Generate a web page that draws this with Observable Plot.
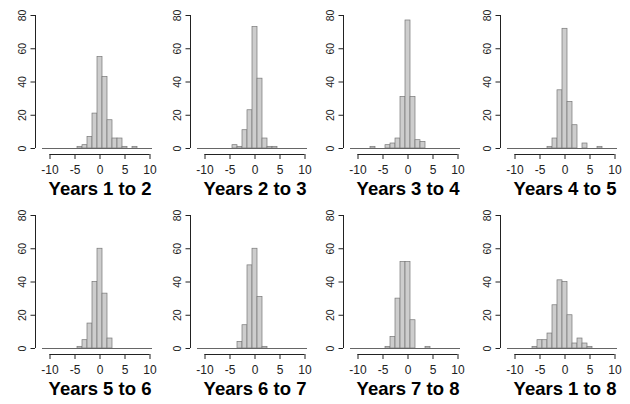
<!DOCTYPE html>
<html><head><meta charset="utf-8">
<script src="https://cdn.jsdelivr.net/npm/d3@7"></script>
<script src="https://cdn.jsdelivr.net/npm/@observablehq/plot@0.6"></script>
<style>
html,body{margin:0;padding:0;background:#fff;}
#chart{position:relative;width:630px;height:404px;overflow:hidden;font-family:"Liberation Sans",Arial,sans-serif;}
.panel{position:absolute;}
</style></head><body><div id="chart"></div>
<script>
const titles = ["Years 1 to 2","Years 2 to 3","Years 3 to 4","Years 4 to 5",
                "Years 5 to 6","Years 6 to 7","Years 7 to 8","Years 1 to 8"];
const binStarts = [-11.5,-10.5,-9.5,-8.5,-7.5,-6.5,-5.5,-4.5,-3.5,-2.5,-1.5,-0.5,0.5,1.5,2.5,3.5,4.5,5.5,6.5,7.5,8.5,9.5];
const binEnds   = [-10.5,-9.5,-8.5,-7.5,-6.5,-5.5,-4.5,-3.5,-2.5,-1.5,-0.5,0.5,1.5,2.5,3.5,4.5,5.5,6.5,7.5,8.5,9.5,10.5];
const years12 = [0,0,0,0,0,0,0,1,2,7,21,55,43,17,6,6,1,0,1,0,0,0];
const years23 = [0,0,0,0,0,0,0,2,1,11,23,73,42,6,1,1,0,0,0,0,0,0];
const years34 = [0,0,0,0,1,0,0,2,3,6,31,77,31,5,4,0,0,0,0,0,0,0];
const years45 = [0,0,0,0,0,0,0,0,1,6,35,72,28,14,0,3,0,0,1,0,0,0];
const years56 = [0,0,0,0,0,0,0,1,5,15,40,60,33,6,0,0,0,0,0,0,0,0];
const years67 = [0,0,0,0,0,0,0,0,4,14,50,60,31,1,0,0,0,0,0,0,0,0];
const years78 = [0,0,0,0,0,0,0,1,7,30,52,52,17,0,0,1,0,0,0,0,0,0];
const years18 = [0,0,0,0,0,1,5,5,9,26,41,40,20,3,6,3,1,0,0,0,0,0];
const seriesList = [years12, years23, years34, years45, years56, years67, years78, years18];
const xTicks = [-10,-5,0,5,10];
const yTicks = [0,20,40,60,80];

const panelLeft = [0,155,308,465];
const panelTop = [0,200];
const axisColor = "#222";

const chart = document.getElementById("chart");
seriesList.forEach((counts, i) => {
  const data = binStarts.map((s, j) => ({x1: s, x2: binEnds[j], count: counts[j]}));
  const plot = Plot.plot({
    width: 155, height: 200,
    marginLeft: 35, marginRight: 5, marginTop: 15, marginBottom: 46,
    x: {domain: [xTicks[0], xTicks[xTicks.length-1]], range: [49.5, 149.5]},
    y: {domain: [yTicks[0], yTicks[yTicks.length-1]], range: [148, 15]},
    style: {fontFamily: "'Liberation Sans', Arial, sans-serif", fontSize: "12px", background: "transparent", color: axisColor, overflow: "visible"},
    marks: [
      Plot.rectY(data, {x1: "x1", x2: "x2", y: "count", fill: "#cdcdcd", stroke: "#777", strokeWidth: 0.7}),
      Plot.ruleY([0], {x1: binStarts[0], x2: binEnds[binEnds.length-1], stroke: "#666", strokeWidth: 1}),
      Plot.ruleX([xTicks[0]], {y1: yTicks[0], y2: yTicks[yTicks.length-1], dx: -14.5, stroke: axisColor}),
      Plot.ruleY([yTicks[0]], {x1: xTicks[0], x2: xTicks[xTicks.length-1], dy: 6, stroke: axisColor}),
      Plot.axisY({ticks: yTicks, tickSize: 4.5, tickFormat: () => "", label: null}),
      Plot.text(yTicks, {y: d => d, text: d => String(d), frameAnchor: "left", dx: -12.5, rotate: -90,
                         textAnchor: "middle", lineAnchor: "middle", fontSize: 10.5, fill: axisColor}),
      Plot.axisX({ticks: xTicks, tickSize: 5, tickPadding: 5.5, tickFormat: d => String(d), label: null}),
      Plot.text([titles[i]], {x: () => d3.mean(xTicks), text: d => d, frameAnchor: "bottom", dy: 40,
                              lineAnchor: "bottom", fontSize: 18.5, fontWeight: "bold", fill: "#000"})
    ]
  });
  const wrap = document.createElement("div");
  wrap.className = "panel";
  wrap.style.left = panelLeft[i % 4] + "px";
  wrap.style.top = panelTop[Math.floor(i / 4)] + "px";
  wrap.appendChild(plot);
  chart.appendChild(wrap);
});
</script></body></html>
